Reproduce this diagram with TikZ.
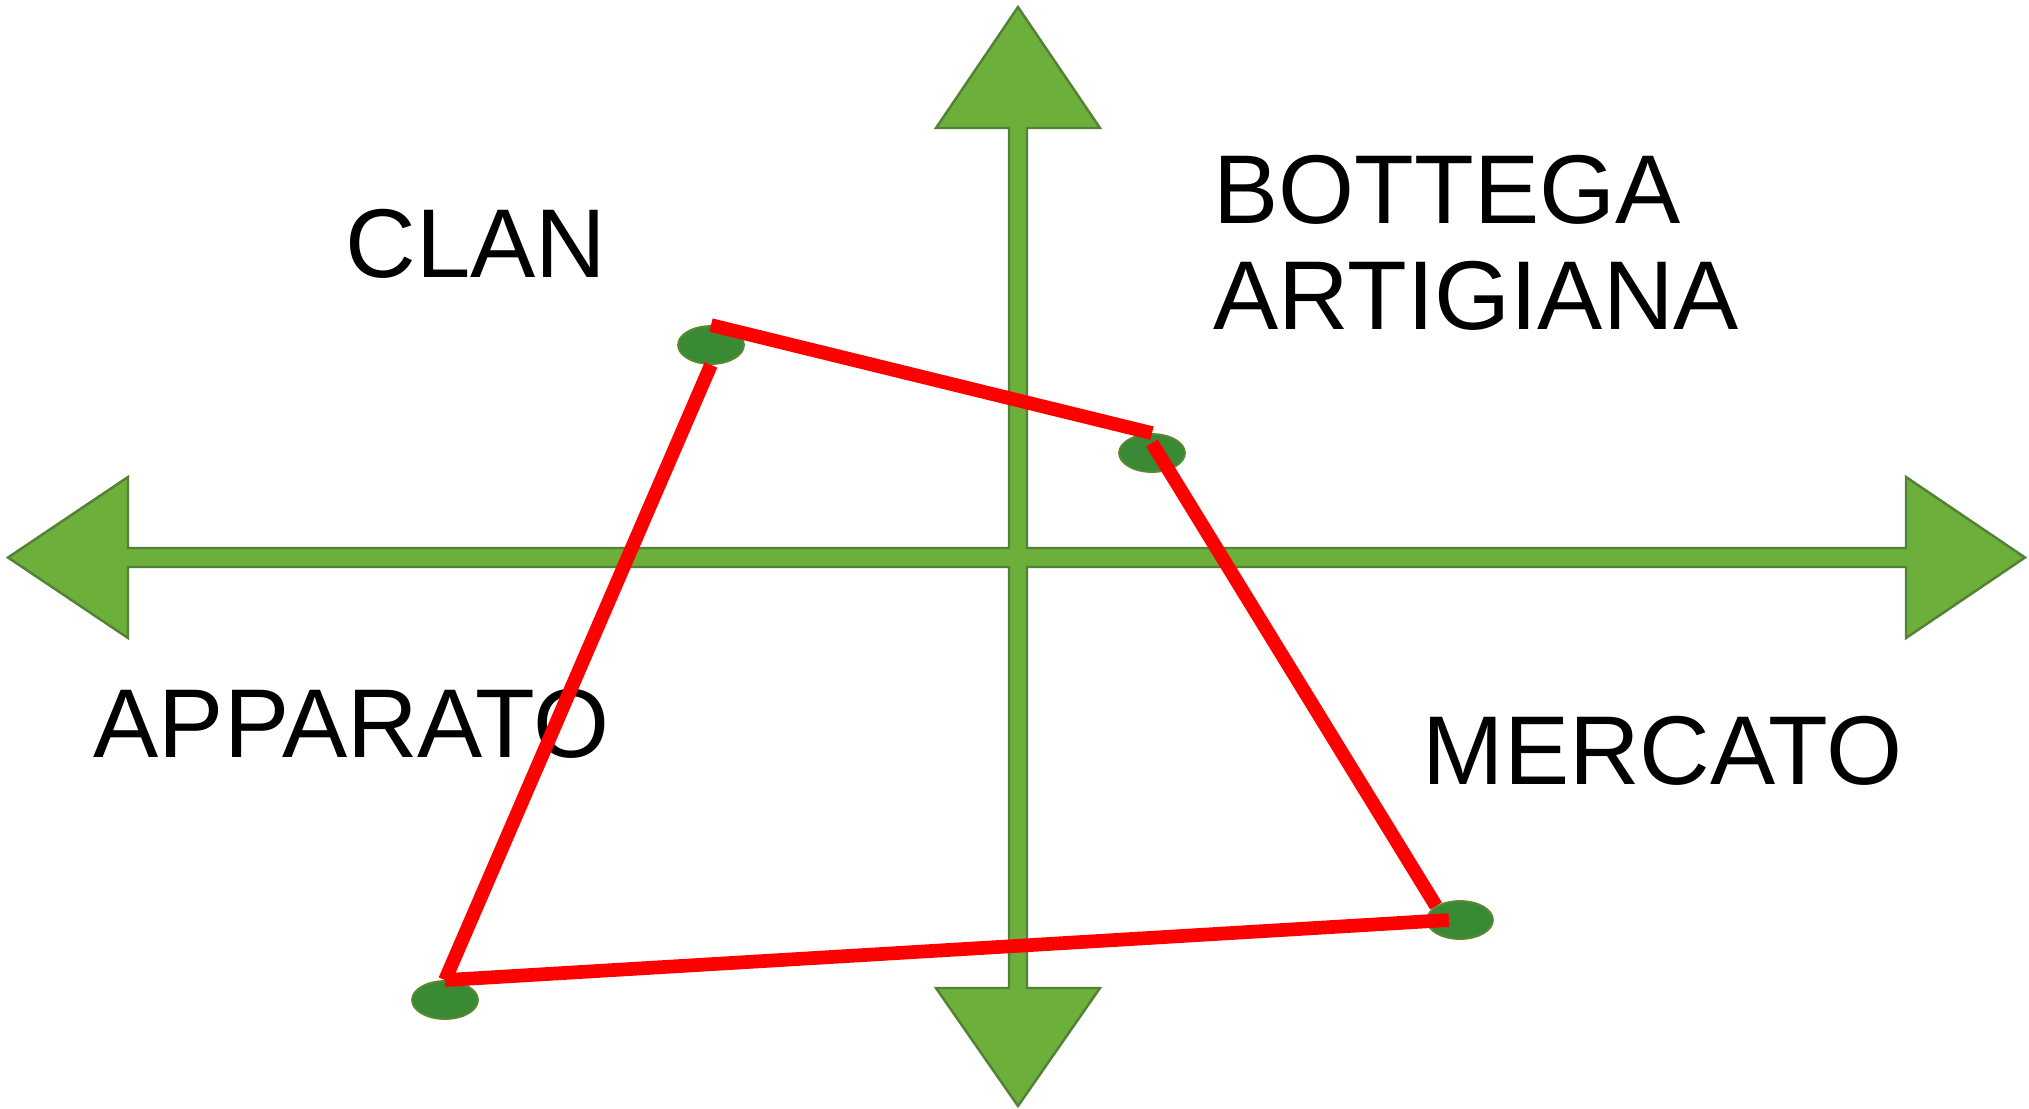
\documentclass[tikz,border=0pt]{standalone}
\usepackage{fontspec}
\setmainfont{Liberation Sans}
\usepackage{tikz}
\usetikzlibrary{shapes.geometric,positioning,calc}

\definecolor{axisgreen}{HTML}{6DAF3B}
\definecolor{axisborder}{HTML}{538135}
\definecolor{dotgreen}{HTML}{3A8A35}
\definecolor{dotborder}{HTML}{5A8A30}

\tikzset{
  axes/.style={fill=axisgreen,draw=axisborder,line width=0.7pt,line join=miter},
  dot/.style={ellipse,fill=dotgreen,draw=dotborder,line width=0.5pt,minimum width=0.66cm,minimum height=0.38cm,inner sep=0pt},
  label/.style={inner sep=0pt,font=\fontsize{27.8}{30}\selectfont,align=left},
  profile/.style={draw=red,line width=3.9pt}
}

\begin{document}
\begin{tikzpicture}[x=0.01cm,y=-0.01cm]
  \useasboundingbox (0,0) rectangle (2029,1108);
  % four-way arrow for the two axes
  \draw[axes] (1018,7) -- (1100,128) -- (1027,128) -- (1027,548) -- (1906,548)
     -- (1906,477) -- (2025,557.5) -- (1906,638) -- (1906,567) -- (1027,567)
     -- (1027,988) -- (1100,988) -- (1018,1106) -- (936,988) -- (1009,988)
     -- (1009,567) -- (128,567) -- (128,638) -- (8,557.5) -- (128,477)
     -- (128,548) -- (1009,548) -- (1009,128) -- (936,128) -- cycle;

  \node[label,anchor=base west] (clanlbl) at (345,277) {CLAN};
  \node[label,anchor=north west] (bottegalbl) at (1213,155) {BOTTEGA\\ARTIGIANA};
  \node[label,anchor=base west] (apparatolbl) at (93,757) {APPARATO};
  \node[label,anchor=base west] (mercatolbl) at (1422,784) {MERCATO};

  \node[dot] (clan) at (711,345) {};
  \node[dot] (bottega) at (1152,453) {};
  \node[dot] (mercato) at (1460,920) {};
  \node[dot] (apparato) at (445,1000) {};

  \draw[profile] (clan.north) -- (bottega.north);
  \draw[profile] ($(bottega.north)!0.25!(bottega.south)$) -- (mercato.north west);
  \draw[profile] ($(mercato.center)!0.33!(mercato.west)$) -- (apparato.north);
  \draw[profile] (apparato.north) -- (clan.south);
\end{tikzpicture}
\end{document}
